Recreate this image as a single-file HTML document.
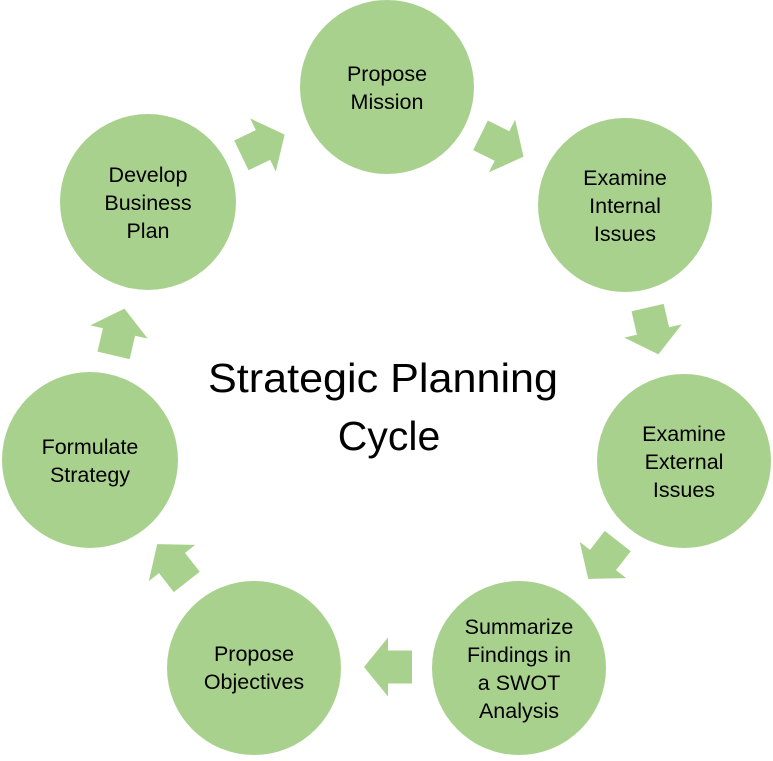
<!DOCTYPE html>
<html><head><meta charset="utf-8"><style>
html,body{margin:0;padding:0;background:#fff;}
svg text{font-family:"Liberation Sans",sans-serif;fill:#000;}
</style></head><body>
<svg width="773" height="756" viewBox="0 0 773 756" xmlns="http://www.w3.org/2000/svg">
<defs>
<polygon id="ar" points="-24,-16.5 0,-16.5 0,-29.5 24,0 0,29.5 0,16.5 -24,16.5" fill="#A9D18E"/>
</defs>
<g fill="#A9D18E">
<circle cx="387" cy="87" r="87"/>
<circle cx="625" cy="205" r="87"/>
<circle cx="684" cy="461" r="87"/>
<circle cx="519" cy="668" r="87"/>
<circle cx="254" cy="668" r="87"/>
<circle cx="90" cy="460" r="88"/>
<circle cx="148" cy="202" r="88"/>
</g>
<use href="#ar" transform="translate(263,145) rotate(-25.7)"/>
<use href="#ar" transform="translate(502,146) rotate(26.4)"/>
<use href="#ar" transform="translate(653,331) rotate(77)"/>
<use href="#ar" transform="translate(603,560) rotate(128)"/>
<use href="#ar" transform="translate(388,667) rotate(180)"/>
<use href="#ar" transform="translate(172,563) rotate(232)"/>
<use href="#ar" transform="translate(119,332) rotate(-77)"/>
<g font-size="21.5" text-anchor="middle">
<text x="387" y="81">Propose</text><text x="387" y="109">Mission</text>
<text x="625" y="185">Examine</text><text x="625" y="213">Internal</text><text x="625" y="241">Issues</text>
<text x="684" y="441">Examine</text><text x="684" y="469">External</text><text x="684" y="497">Issues</text>
<text x="519" y="634">Summarize</text><text x="519" y="662">Findings in</text><text x="519" y="690">a SWOT</text><text x="519" y="718">Analysis</text>
<text x="254" y="661">Propose</text><text x="254" y="689">Objectives</text>
<text x="90" y="454">Formulate</text><text x="90" y="482">Strategy</text>
<text x="148" y="182">Develop</text><text x="148" y="210">Business</text><text x="148" y="238">Plan</text>
</g>
<g font-size="41" text-anchor="middle">
<text x="383" y="392" textLength="350" lengthAdjust="spacingAndGlyphs">Strategic Planning</text>
<text x="389" y="450">Cycle</text>
</g>
</svg>
</body></html>
